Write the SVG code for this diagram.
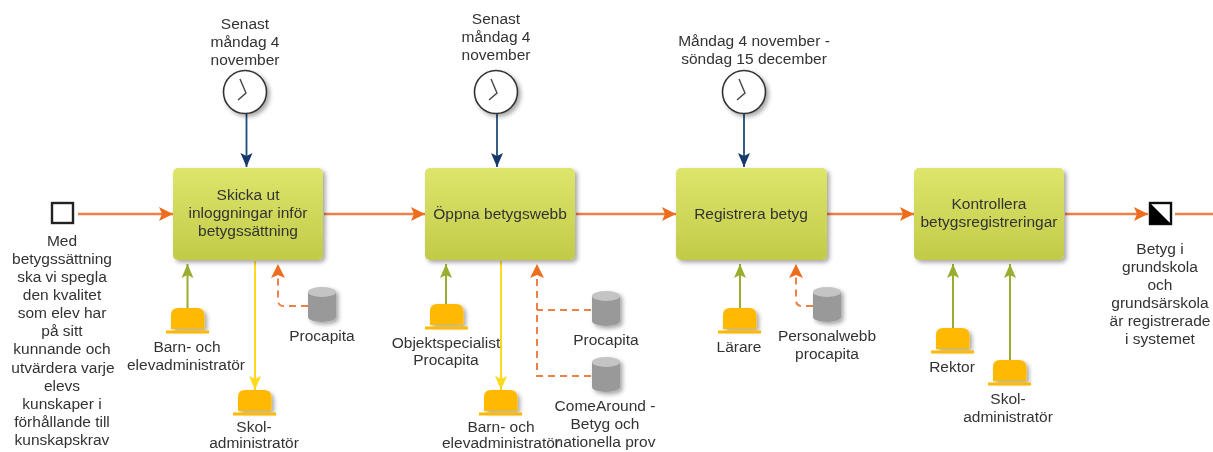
<svg xmlns="http://www.w3.org/2000/svg" xmlns:xlink="http://www.w3.org/1999/xlink" width="1213" height="452" viewBox="0 0 1213 452">
<style>
text{font-family:"Liberation Sans",Arial,sans-serif;font-size:15.5px;fill:#333;text-anchor:middle}
.flow{fill:none;stroke:#ee8144;stroke-width:2.6}
.ctl{fill:none;stroke:#1f4e79;stroke-width:1.8}
.res{fill:none;stroke:#9aad2e;stroke-width:2}
.out{fill:none;stroke:#ffd91a;stroke-width:2}
.dash{fill:none;stroke:#ee8144;stroke-width:2;stroke-dasharray:7 5}
.task{fill:url(#tg);filter:url(#sh)}
</style>
<defs>
<linearGradient id="tg" x1="0" y1="0" x2="0" y2="1"><stop offset="0" stop-color="#dde56c"/><stop offset="1" stop-color="#c2cb48"/></linearGradient>
<filter id="sh" x="-20%" y="-20%" width="150%" height="150%"><feDropShadow dx="2.5" dy="2.5" stdDeviation="2" flood-color="#000" flood-opacity=".35"/></filter>
<filter id="soft" x="0" y="0" width="100%" height="100%"><feGaussianBlur stdDeviation="0.55"/></filter>
<marker id="aF" markerUnits="userSpaceOnUse" markerWidth="15" markerHeight="16" refX="14" refY="8" orient="auto"><path d="M0 1L14 8L0 15L3 8Z" fill="#ed6d1f"/></marker>
<marker id="aN" markerUnits="userSpaceOnUse" markerWidth="15" markerHeight="16" refX="14" refY="8" orient="auto"><path d="M0 2L14 8L0 14L3 8Z" fill="#14386a"/></marker>
<marker id="aG" markerUnits="userSpaceOnUse" markerWidth="15" markerHeight="16" refX="14" refY="8" orient="auto"><path d="M0 2L14 8L0 14L3 8Z" fill="#9aad2e"/></marker>
<marker id="aY" markerUnits="userSpaceOnUse" markerWidth="15" markerHeight="16" refX="14" refY="8" orient="auto"><path d="M0 2L14 8L0 14L3 8Z" fill="#ffd91a"/></marker>
<g id="hat"><path d="M0 21V7Q0 0 7 0H26Q33 0 33.500 7V21Z" fill="#ffb900" filter="url(#sh)"/><rect x="-5" y="22.500" width="43" height="3" fill="#ffb900"/></g>
<g id="cyl" filter="url(#sh)"><path d="M0 5V30A14 5 0 0 0 28 30V5Z" fill="#999"/><ellipse cx="14" cy="5" rx="14" ry="5" fill="#c4c4c4"/></g>
<g id="clock"><circle r="21.500" fill="#fff" stroke="#333" stroke-width="1.600" filter="url(#sh)"/><path d="M-5-13L1 1L-7 8" fill="none" stroke="#444" stroke-width="1.400"/></g>
</defs>
<rect width="1213" height="452" fill="#fff"/>
<g filter="url(#soft)">
<g id="connectors">
<path class="flow" marker-end="url(#aF)" d="M78 214H173"/>
<path class="flow" marker-end="url(#aF)" d="M324 214H425"/>
<path class="flow" marker-end="url(#aF)" d="M576 214H676"/>
<path class="flow" marker-end="url(#aF)" d="M827 214H914"/>
<path class="flow" marker-end="url(#aF)" d="M1065 214H1148"/>
<path class="flow" d="M1175 214H1213"/>
<path class="ctl" marker-end="url(#aN)" d="M246.500 114V167"/>
<path class="ctl" marker-end="url(#aN)" d="M497 114V167"/>
<path class="ctl" marker-end="url(#aN)" d="M744 114V167"/>
<path class="res" marker-end="url(#aG)" d="M187.500 308V264"/>
<path class="res" marker-end="url(#aG)" d="M446 304V264"/>
<path class="res" marker-end="url(#aG)" d="M740 308V264"/>
<path class="res" marker-end="url(#aG)" d="M953 328V264"/>
<path class="res" marker-end="url(#aG)" d="M1010 360V264"/>
<path class="out" marker-end="url(#aY)" d="M255 261V390"/>
<path class="out" marker-end="url(#aY)" d="M501 261V390"/>
<path class="dash" marker-end="url(#aF)" d="M308 306H284Q278 306 278 300V264"/>
<path class="dash" d="M591 310H537"/>
<path class="dash" marker-end="url(#aF)" d="M591 376H537V264"/>
<path class="dash" marker-end="url(#aF)" d="M813 306H802Q796 306 796 300V264"/>
</g>
<g id="start"><rect x="52" y="203" width="21" height="20" fill="#fff" stroke="#222" stroke-width="2.400"/>
<text x="62" y="246">Med</text><text x="62" y="264">betygssättning</text><text x="62" y="282">ska vi spegla</text><text x="62" y="300">den kvalitet</text><text x="62" y="318">som elev har</text><text x="62" y="336">på sitt</text><text x="62" y="354">kunnande och</text><text x="63" y="373">utvärdera varje</text><text x="62" y="391">elevs</text><text x="62" y="409">kunskaper i</text><text x="62" y="427">förhållande till</text><text x="62" y="445">kunskapskrav</text></g>
<g id="end"><rect x="1150" y="203" width="21" height="21" fill="#fff" stroke="#111" stroke-width="2.400"/><path d="M1150 203L1171 224H1150Z" fill="#000"/>
<text x="1160" y="254">Betyg i</text><text x="1160" y="272">grundskola</text><text x="1160" y="290">och</text><text x="1160" y="308">grundsärskola</text><text x="1160" y="326">är registrerade</text><text x="1160" y="344">i systemet</text></g>
<g id="t1"><rect class="task" x="173" y="168" width="150" height="92" rx="5"/><text x="248" y="200">Skicka ut</text><text x="248" y="218">inloggningar inför</text><text x="248" y="236">betygssättning</text></g>
<g id="t2"><rect class="task" x="425" y="168" width="150" height="92" rx="5"/><text x="500" y="219">Öppna betygswebb</text></g>
<g id="t3"><rect class="task" x="676" y="168" width="151" height="92" rx="5"/><text x="751" y="219">Registrera betyg</text></g>
<g id="t4"><rect class="task" x="914" y="168" width="150" height="92" rx="5"/><text x="989" y="209">Kontrollera</text><text x="989" y="227">betygsregistreringar</text></g>
<g id="clock1"><use xlink:href="#clock" href="#clock" x="245" y="92"/><text x="245" y="29">Senast</text><text x="245" y="47">måndag 4</text><text x="245" y="65">november</text></g>
<g id="clock2"><use xlink:href="#clock" href="#clock" x="496" y="92"/><text x="496" y="24">Senast</text><text x="496" y="42">måndag 4</text><text x="496" y="60">november</text></g>
<g id="clock3"><use xlink:href="#clock" href="#clock" x="744" y="92"/><text x="754" y="46">Måndag 4 november -</text><text x="754" y="64">söndag 15 december</text></g>
<g id="r1"><use xlink:href="#hat" href="#hat" x="171" y="308"/><text x="187" y="352">Barn- och</text><text x="186" y="370">elevadministratör</text></g>
<g id="r2"><use xlink:href="#hat" href="#hat" x="238" y="390"/><text x="254" y="432">Skol-</text><text x="254" y="448">administratör</text></g>
<g id="s1"><use xlink:href="#cyl" href="#cyl" x="308" y="287"/><text x="322" y="341">Procapita</text></g>
<g id="r3"><use xlink:href="#hat" href="#hat" x="430" y="304"/><text x="446" y="348">Objektspecialist</text><text x="446" y="365">Procapita</text></g>
<g id="r4"><use xlink:href="#hat" href="#hat" x="484" y="390"/><text x="501" y="432">Barn- och</text><text x="501" y="448">elevadministratör</text></g>
<g id="s2"><use xlink:href="#cyl" href="#cyl" x="592" y="291"/><text x="606" y="345">Procapita</text></g>
<g id="s3"><use xlink:href="#cyl" href="#cyl" x="592" y="357"/><text x="605" y="411">ComeAround -</text><text x="605" y="429">Betyg och</text><text x="605" y="447">nationella prov</text></g>
<g id="r5"><use xlink:href="#hat" href="#hat" x="723" y="308"/><text x="739" y="352">Lärare</text></g>
<g id="s4"><use xlink:href="#cyl" href="#cyl" x="813" y="287"/><text x="827" y="341">Personalwebb</text><text x="827" y="359">procapita</text></g>
<g id="r6"><use xlink:href="#hat" href="#hat" x="936" y="328"/><text x="952" y="372">Rektor</text></g>
<g id="r7"><use xlink:href="#hat" href="#hat" x="993" y="360"/><text x="1008" y="404">Skol-</text><text x="1008" y="422">administratör</text></g>
</g>
</svg>
